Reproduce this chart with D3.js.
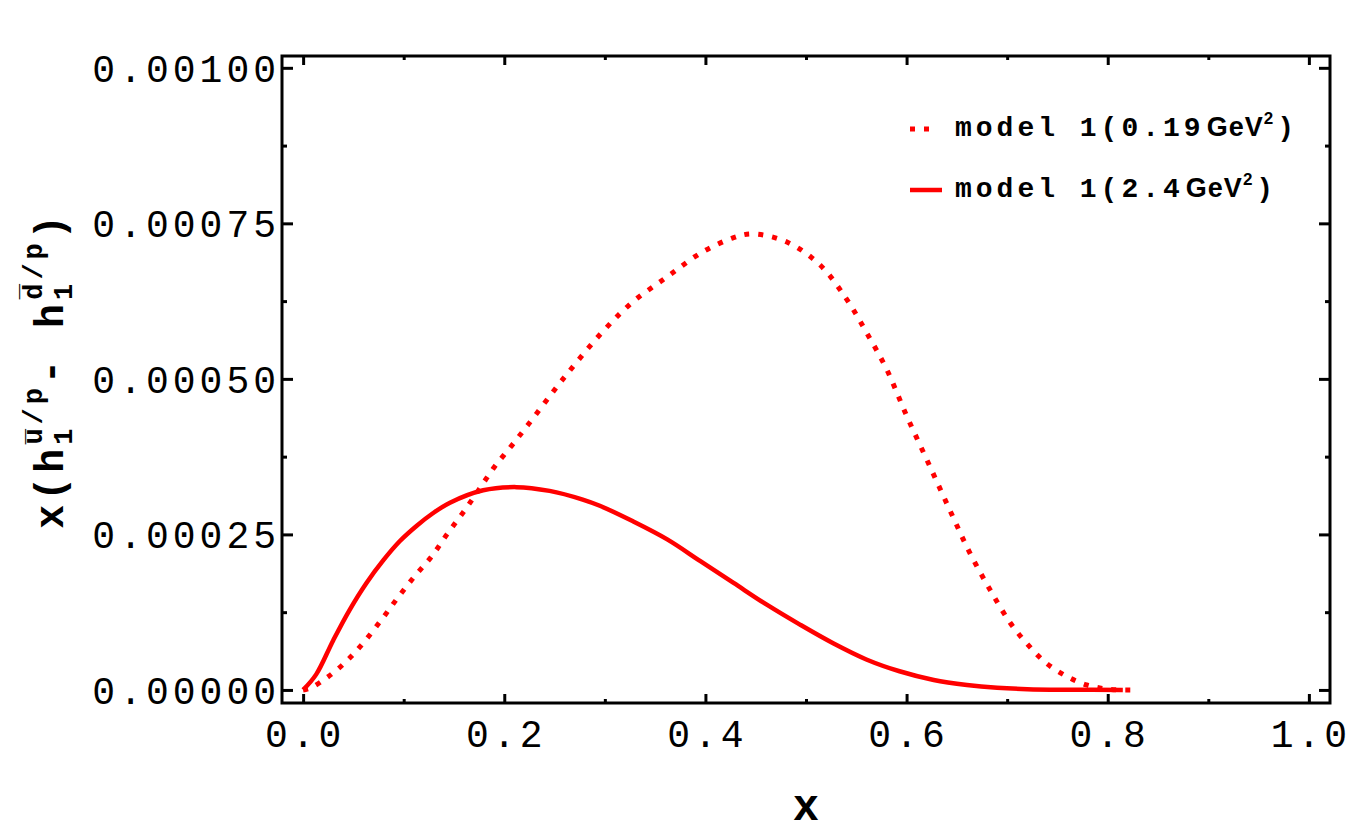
<!DOCTYPE html>
<html>
<head>
<meta charset="utf-8">
<script src="https://cdn.jsdelivr.net/npm/d3@7"></script>
<style>
  body { margin: 0; background: #fff; }
  svg { display: block; }
  .tick-label { font-family: 'Liberation Mono', monospace; font-size: 38px; letter-spacing: 4px; fill: #000; }
  .leg { font-family: 'Liberation Mono', monospace; font-weight: bold; font-size: 28px; letter-spacing: 4px; fill: #000; }
</style>
</head>
<body>
<div id="chart"></div>
<script>
// ---- data ----
var lowX = [0, 0.007, 0.023, 0.043, 0.061, 0.078, 0.094, 0.111, 0.128, 0.143, 0.159, 0.174, 0.19, 0.207, 0.224, 0.26, 0.299, 0.328, 0.362, 0.395, 0.428, 0.447, 0.481, 0.514, 0.540, 0.560, 0.580, 0.600, 0.623, 0.645, 0.663, 0.683, 0.703, 0.721, 0.739, 0.759, 0.779, 0.802, 0.829];
var lowY = [0, 0.03e-4, 0.19e-4, 0.46e-4, 0.78e-4, 1.13e-4, 1.48e-4, 1.83e-4, 2.15e-4, 2.50e-4, 2.85e-4, 3.20e-4, 3.58e-4, 3.92e-4, 4.27e-4, 5.03e-4, 5.78e-4, 6.24e-4, 6.64e-4, 7.02e-4, 7.27e-4, 7.33e-4, 7.20e-4, 6.83e-4, 6.29e-4, 5.75e-4, 5.16e-4, 4.41e-4, 3.60e-4, 2.82e-4, 2.20e-4, 1.61e-4, 1.08e-4, 0.72e-4, 0.43e-4, 0.22e-4, 0.08e-4, 0.01e-4, 0];

var highX = [0, 0.013, 0.03, 0.046, 0.063, 0.08, 0.096, 0.113, 0.129, 0.146, 0.179, 0.212, 0.245, 0.278, 0.295, 0.328, 0.362, 0.395, 0.428, 0.461, 0.494, 0.527, 0.560, 0.593, 0.627, 0.66, 0.69, 0.72, 0.76, 0.815];
var highY = [0, 0.25e-4, 0.80e-4, 1.28e-4, 1.72e-4, 2.09e-4, 2.39e-4, 2.64e-4, 2.84e-4, 3.01e-4, 3.21e-4, 3.26e-4, 3.20e-4, 3.06e-4, 2.96e-4, 2.71e-4, 2.42e-4, 2.07e-4, 1.72e-4, 1.37e-4, 1.05e-4, 0.75e-4, 0.49e-4, 0.30e-4, 0.16e-4, 0.08e-4, 0.035e-4, 0.012e-4, 0.003e-4, 0];

var xTicks = [0, 0.2, 0.4, 0.6, 0.8, 1.0];
var xMinor = [0.1, 0.3, 0.5, 0.7, 0.9];
var yTicks = [0, 0.00025, 0.0005, 0.00075, 0.001];
var yMinor = [0.000125, 0.000375, 0.000625, 0.000875];

var legendLabels = ['0.19', '2.4'];

// ---- layout ----
var W = 1350, H = 835;
var frameL = 282, frameR = 1330, frameT = 56, frameB = 703;

var svg = d3.select('#chart').append('svg')
  .attr('width', W)
  .attr('height', H);

var x = d3.scaleLinear().domain([-0.021, 1.021]).range([frameL, frameR]);
var y = d3.scaleLinear().domain([-0.000021, 0.001019]).range([frameB, frameT]);

// curves
var line = d3.line()
  .x(function(d){ return x(d[0]); })
  .y(function(d){ return y(d[1]); })
  .curve(d3.curveCatmullRom.alpha(0.5));

var lowData = lowX.map(function(v, i){ return [v, lowY[i]]; });
var highData = highX.map(function(v, i){ return [v, highY[i]]; });

var plot = svg.append('g');
plot.append('path')
  .datum(highData)
  .attr('d', line)
  .attr('fill', 'none')
  .attr('stroke', '#ff0000')
  .attr('stroke-width', 4.5);

plot.append('path')
  .datum(lowData)
  .attr('d', line)
  .attr('fill', 'none')
  .attr('stroke', '#ff0000')
  .attr('stroke-width', 5)
  .attr('stroke-dasharray', '5,9');

// ============== Frame & ticks ==============
function tickAxis(axis, g, major, minor, majLen, minLen){
  g.call(axis.tickValues(major).tickSize(-majLen).tickFormat(''));
  var gm = svg.append('g').attr('transform', g.attr('transform'));
  gm.call(axis.tickValues(minor).tickSize(-minLen).tickFormat(''));
  [g, gm].forEach(function(s){
    s.select('.domain').remove();
    s.selectAll('.tick line').attr('stroke', '#000').attr('stroke-width', 3);
  });
}

tickAxis(d3.axisBottom(x), svg.append('g').attr('transform', 'translate(0,' + frameB + ')'), xTicks, xMinor, 9, 4);
tickAxis(d3.axisTop(x), svg.append('g').attr('transform', 'translate(0,' + frameT + ')'), xTicks, xMinor, 9, 4);
tickAxis(d3.axisLeft(y), svg.append('g').attr('transform', 'translate(' + frameL + ',0)'), yTicks, yMinor, 11, 5);
tickAxis(d3.axisRight(y), svg.append('g').attr('transform', 'translate(' + frameR + ',0)'), yTicks, yMinor, 11, 5);

svg.append('rect')
  .attr('x', frameL).attr('y', frameT)
  .attr('width', frameR - frameL).attr('height', frameB - frameT)
  .attr('fill', 'none')
  .attr('stroke', '#000')
  .attr('stroke-width', 3);

// tick labels
var fmtX = d3.format('.1f'), fmtY = d3.format('.5f');
svg.append('g').selectAll('text')
  .data(xTicks).enter().append('text')
  .attr('class', 'tick-label')
  .attr('x', function(d){ return x(d) + 2; })
  .attr('y', frameB + 17)
  .attr('dy', '0.71em')
  .attr('text-anchor', 'middle')
  .text(fmtX);

svg.append('g').selectAll('text')
  .data(yTicks).enter().append('text')
  .attr('class', 'tick-label')
  .attr('x', frameL - 2)
  .attr('y', function(d){ return y(d); })
  .attr('dy', '0.36em')
  .attr('text-anchor', 'end')
  .text(fmtY);

// axis titles
svg.append('text')
  .attr('x', x(0.5))
  .attr('y', 820)
  .attr('text-anchor', 'middle')
  .style('font-family', "'Liberation Mono', monospace")
  .style('font-weight', 'bold')
  .style('font-size', '44px')
  .text('x');

var yl = svg.append('text')
  .attr('transform', 'translate(63,370) rotate(-90)')
  .attr('text-anchor', 'middle')
  .style('font-family', "'Liberation Mono', monospace")
  .style('font-weight', 'bold')
  .style('font-size', '40px')
  .style('letter-spacing', '4px');
yl.append('tspan').text('x(h');
yl.append('tspan').attr('dy', 9).style('font-size', '27px').text('1');
yl.append('tspan').attr('dx', -20).attr('dy', -30).style('font-size', '27px').text('u\u0305/p');
yl.append('tspan').attr('dy', 21).text('- h');
yl.append('tspan').attr('dy', 9).style('font-size', '27px').text('1');
yl.append('tspan').attr('dx', -20).attr('dy', -30).style('font-size', '27px').text('d\u0305/p');
yl.append('tspan').attr('dy', 21).text(')');

// ============== Legend ==============
var legend = svg.append('g');
var legRows = [
  {label: legendLabels[0], dash: '5,9', y: 129, len: 22},
  {label: legendLabels[1], dash: null, y: 190, len: 32}
];
legRows.forEach(function(r){
  legend.append('line')
    .attr('x1', 910).attr('x2', 910 + r.len)
    .attr('y1', r.y).attr('y2', r.y)
    .attr('stroke', '#ff0000')
    .attr('stroke-width', r.dash ? 5 : 4.5)
    .attr('stroke-dasharray', r.dash);
  var t = legend.append('text')
    .attr('class', 'leg')
    .attr('x', 955)
    .attr('y', r.y + 7);
  t.append('tspan').text('model 1(' + r.label);
  t.append('tspan')
    .attr('dx', 2)
    .style('font-family', "'Liberation Sans', sans-serif")
    .style('font-size', '27px')
    .style('letter-spacing', '1px')
    .text('GeV');
  t.append('tspan')
    .attr('dy', -12)
    .style('font-family', "'Liberation Sans', sans-serif")
    .style('font-size', '17px')
    .text('2');
  t.append('tspan')
    .attr('dy', 12)
    .text(')');
});
</script>
</body>
</html>
